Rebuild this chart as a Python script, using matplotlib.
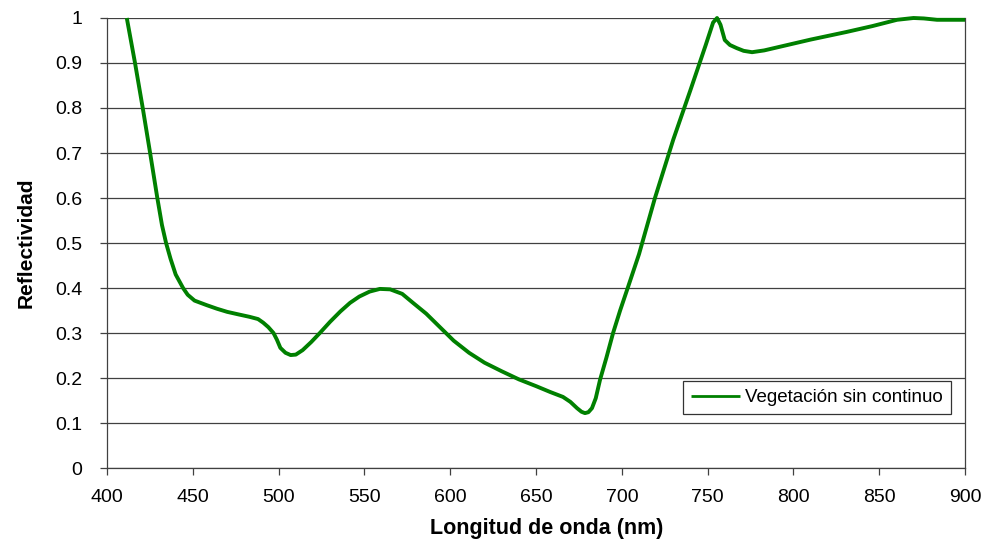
import numpy as np
import matplotlib.pyplot as plt

plt.rcParams['font.family'] = ['Liberation Sans', 'DejaVu Sans']

# espectro de reflectividad
longitud = [411.5, 416.3, 420.8, 425.1, 429.3, 432, 434.4, 437, 440, 444.3,
            447, 451, 458, 464, 470, 477, 483, 488, 491, 494, 497, 499, 501, 504, 507,
            510, 514, 519, 524, 530, 536, 541.6, 547, 553, 559, 565, 572, 578.3, 586,
            594, 602, 611, 620, 630, 640, 650, 658.2, 665.7, 670, 673.9, 676.5, 678.5,
            680.5, 682.6, 684.8, 687.3, 691, 694.9, 699, 703.6, 710, 719.3, 730, 740,
            748.9, 753.2, 755.5, 757.5, 760, 763, 767, 771, 775.9, 783, 792, 810, 831,
            846, 860.4, 870, 876, 883.7, 892, 900]
reflect = [1.0, 0.9, 0.8, 0.7, 0.6, 0.54, 0.5, 0.465, 0.43, 0.4,
           0.385, 0.372, 0.362, 0.354, 0.347, 0.341, 0.336, 0.331, 0.323, 0.313, 0.3, 0.285,
           0.267, 0.256, 0.251, 0.252, 0.262, 0.28, 0.3, 0.325, 0.348, 0.367, 0.381, 0.392,
           0.398, 0.397, 0.387, 0.367, 0.343, 0.313, 0.283, 0.256, 0.234, 0.215, 0.197,
           0.182, 0.169, 0.158, 0.147, 0.133, 0.125, 0.122, 0.124, 0.133, 0.155, 0.196,
           0.245, 0.3, 0.35, 0.402, 0.475, 0.6, 0.73, 0.84, 0.94, 0.99, 1.0, 0.985, 0.951,
           0.94, 0.933, 0.927, 0.924, 0.928, 0.936, 0.952, 0.969, 0.982, 0.996, 1.0, 0.999,
           0.996, 0.996, 0.996]

x_ticks = np.arange(400, 901, 50)
y_ticks = np.round(np.arange(0, 1.01, 0.1), 1)
y_labels = ['0'] + ['%.1f' % v for v in y_ticks[1:-1]] + ['1']

fig = plt.figure(figsize=(9.83, 5.42), dpi=100)
ax = fig.add_axes([0.1089, 0.1365, 0.8728, 0.8303])

ax.plot(longitud, reflect, color='#008000', lw=2.8, solid_joinstyle='round',
        solid_capstyle='butt', label='Vegetación sin continuo', zorder=3, clip_on=False)

ax.set_xlim(400, 900)
ax.set_ylim(0, 1)
ax.set_xticks(x_ticks)
ax.set_yticks(y_ticks)
ax.set_yticklabels(y_labels)
ax.grid(axis='y', color='#404040', lw=0.9)
ax.set_axisbelow(True)

for s in ['left', 'right', 'bottom']:
    ax.spines[s].set_color('#404040')
    ax.spines[s].set_linewidth(0.9)
ax.spines['top'].set_visible(False)

ax.tick_params(axis='both', direction='out', length=5, width=0.9, color='#404040',
               labelsize=14)
ax.tick_params(axis='x', pad=10)
ax.tick_params(axis='y', pad=13)

ax.set_xlabel('Longitud de onda (nm)', fontsize=15.5, fontweight='bold')
ax.xaxis.set_label_coords(0.513, -0.111)
ax.set_ylabel('Reflectividad', fontsize=15, fontweight='bold', labelpad=14)

leg = ax.legend(loc='lower right', bbox_to_anchor=(0.9837, 0.12), fontsize=13.5,
                frameon=True, fancybox=False, borderpad=0.42, handlelength=2.6,
                handletextpad=0.3, borderaxespad=0)
leg.get_frame().set_edgecolor('black')
leg.get_frame().set_linewidth(0.9)
for line in leg.get_lines():
    line.set_linewidth(2)

fig.savefig('out.png', dpi=100)
